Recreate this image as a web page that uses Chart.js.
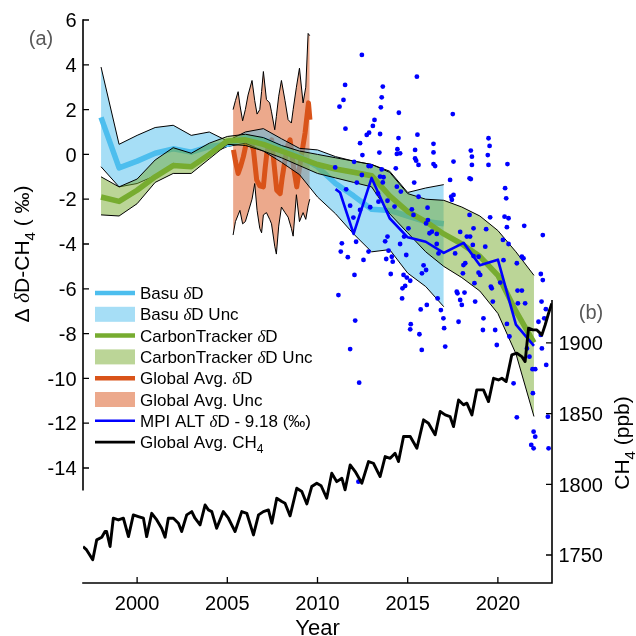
<!DOCTYPE html>
<html><head><meta charset="utf-8">
<script src="https://cdn.jsdelivr.net/npm/chart.js@4.4.1/dist/chart.umd.min.js"></script>
<style>html,body{margin:0;padding:0;background:#fff;}#wrap{width:636px;height:636px;}</style>
</head><body><div id="wrap"><canvas id="c" width="636" height="636"></canvas></div>
<script>
// ---------------- data ----------------
const basuYears = [1998,1999,2000,2001,2002,2003,2004,2005,2006,2007,2008,2009,2010,2011,2012,2013,2014,2015,2016,2017];
const basuDelta = [1.65,-0.6,-0.3,0.05,0.25,0.1,0.35,0.45,0.75,0.65,0.3,-0.1,-0.55,-1.3,-1.85,-2.45,-2.5,-2.75,-3.0,-3.1];
const basuUpper = [3.9,0.45,0.85,1.2,1.3,0.85,1.0,0.6,1.0,1.15,0.7,0.27,0.2,-0.1,-0.3,-0.45,-0.75,-1.7,-1.5,-1.35];
const basuLower = [-0.55,-1.45,-1.3,-0.95,-0.4,-0.6,0.0,0.35,0.5,0.15,-0.35,-0.9,-1.9,-2.65,-3.55,-4.35,-4.25,-5.3,-5.9,-6.8];

const ctYears = [1998,1999,2000,2001,2002,2003,2004,2005,2006,2007,2008,2009,2010,2011,2012,2013,2014,2015,2016,2017,2018,2019,2020,2021,2022];
const ctDelta = [-1.9,-2.1,-1.6,-1.0,-0.5,-0.55,0.0,0.6,0.65,0.45,0.15,-0.15,-0.45,-0.65,-0.8,-0.95,-1.85,-2.55,-3.0,-3.55,-4.0,-4.55,-5.4,-7.0,-8.4];
const ctUpper = [-1.0,-1.45,-1.1,-0.25,0.3,0.05,0.5,0.8,0.9,0.75,0.4,0.15,0.0,-0.15,-0.3,-0.45,-0.8,-1.75,-2.0,-2.05,-2.35,-2.75,-3.4,-4.35,-5.4];
const ctLower = [-2.7,-2.75,-2.2,-1.25,-0.85,-0.85,-0.2,0.45,0.4,0.15,-0.15,-0.5,-0.85,-1.05,-1.25,-1.45,-2.65,-3.5,-4.35,-5.0,-5.5,-6.1,-7.1,-8.9,-11.7];

const gaYears = [2005.34,2005.45,2005.6,2005.75,2005.89,2006.05,2006.17,2006.3,2006.45,2006.63,2006.8,2007.0,2007.1,2007.19,2007.3,2007.46,2007.6,2007.74,2007.93,2008.05,2008.2,2008.35,2008.48,2008.67,2008.85,2009.04,2009.2,2009.31,2009.5,2009.58];
const gaDelta = [0.2,-0.3,-0.85,-0.5,-0.1,0.5,0.8,0.6,0.2,-1.15,-1.4,-1.45,-0.6,0.05,0.45,0.65,-0.5,-1.6,-1.75,-1.0,-0.25,0.4,0.65,-0.55,-1.45,-0.4,0.4,0.95,2.3,1.55];
const gaUncYears = [2005.32,2005.45,2005.6,2005.7,2005.85,2006.0,2006.15,2006.37,2006.52,2006.65,2006.8,2006.9,2007.0,2007.17,2007.35,2007.45,2007.63,2007.72,2007.85,2008.0,2008.2,2008.37,2008.55,2008.65,2008.83,2009.0,2009.2,2009.35,2009.48,2009.57];
const gaUpper = [2.0,2.4,2.8,2.2,1.5,2.0,2.65,3.3,2.4,1.8,2.0,2.8,3.7,2.45,2.3,1.9,1.1,1.7,2.6,3.3,2.4,1.55,1.4,2.0,3.0,3.85,2.3,3.0,5.4,5.3];
const gaLower = [-3.6,-3.0,-2.7,-2.5,-3.1,-3.0,-2.6,-2.0,-1.3,-2.5,-3.3,-3.5,-2.7,-2.6,-2.9,-3.1,-4.1,-4.45,-3.2,-2.35,-2.6,-2.8,-3.3,-3.65,-1.8,-3.0,-2.6,-2.9,-2.3,-2.0];

const mpiYears = [2011.0,2011.25,2012.0,2013.0,2014.0,2015.0,2016.0,2017.0,2018.1,2019.0,2020.0,2021.0,2022.0];
const mpiDelta = [-1.55,-1.7,-3.55,-1.05,-2.85,-3.7,-3.9,-4.4,-3.95,-4.95,-4.7,-7.6,-8.55];

// individual MPI ALT samples [year, delta]
const mpiSamples = [
[2012.46,4.44],[2015.51,3.47],[2011.53,3.10],[2013.62,3.03],[2011.44,2.43],[2013.56,2.55],[2011.22,2.13],[2013.51,2.10],[2014.51,1.86],[2013.16,1.54],
[2013.07,1.27],[2011.55,1.15],[2012.86,0.97],[2012.73,0.87],[2013.47,0.91],[2015.54,0.88],[2014.49,0.73],[2012.36,0.50],[2014.43,0.23],[2015.41,0.20],
[2013.43,0.08],[2014.58,0.05],[2014.40,0.02],[2012.49,-0.03],[2016.43,0.47],[2016.43,0.09],[2015.41,-0.18],[2015.47,-0.28],[2015.60,-0.47],[2016.43,-0.43],
[2016.52,-0.52],[2014.34,-0.62],[2010.98,-0.58],[2012.03,-0.33],[2013.56,-0.67],[2012.83,-0.52],[2012.95,-0.52],[2012.46,-0.92],[2013.47,-0.99],[2013.66,-1.02],
[2012.18,-1.26],[2013.62,-1.25],[2015.36,-1.26],[2011.59,-1.56],[2014.62,-1.66],[2014.40,-1.44],[2013.35,-1.74],[2013.88,-2.07],[2015.60,-1.89],[2013.38,-2.11],
[2011.81,-2.29],[2012.92,-2.36],[2014.27,-2.33],[2015.23,-2.45],[2016.10,-2.38],[2015.32,-2.70],[2016.12,-2.93],[2016.02,-3.08],[2011.99,-2.82],[2012.36,-2.48],
[2015.04,-3.30],[2016.34,-3.45],[2016.21,-3.52],[2016.61,-3.55],[2014.80,-3.67],[2013.88,-3.67],[2013.75,-3.88],[2014.58,-4.00],[2016.61,-4.00],[2016.71,-4.42],
[2011.35,-3.97],[2012.14,-3.90],[2012.83,-4.34],[2011.29,-4.34],[2011.68,-4.59],[2012.55,-4.71],[2013.94,-4.30],[2013.81,-4.67],[2014.12,-4.57],[2014.17,-4.79],
[2014.92,-4.49],[2015.88,-4.95],[2016.02,-5.16],[2015.79,-5.31],[2014.77,-5.38],[2014.95,-5.50],[2012.05,-5.38],[2014.06,-5.34],[2014.71,-5.98],[2014.86,-5.87],
[2015.14,-5.64],[2011.16,-6.28],[2014.69,-6.43],[2016.66,-6.43],[2016.06,-6.72],[2015.72,-6.92],[2012.09,-7.42],[2015.17,-7.58],[2015.14,-7.81],[2015.65,-8.03],
[2011.81,-8.69],[2012.31,-10.19],[2012.27,-14.61],[2015.78,-8.73],
[2017.50,1.80],[2017.54,-0.32],[2018.50,0.17],[2018.56,-0.10],[2018.56,-0.47],[2019.48,0.72],[2019.54,0.38],[2019.44,-0.03],[2019.48,-0.47],[2020.53,-0.43],
[2017.35,-1.14],[2018.43,-1.07],[2018.50,-1.10],[2020.40,-1.51],[2020.46,-1.96],[2017.54,-1.81],[2017.41,-1.89],[2017.45,-2.03],[2019.57,-2.81],[2020.37,-2.78],
[2020.59,-2.85],[2021.46,-3.19],[2022.49,-3.60],[2020.50,-3.25],[2018.43,-2.70],[2018.65,-3.30],[2019.35,-3.34],[2018.46,-3.67],[2017.91,-3.46],[2018.28,-3.67],
[2020.28,-3.82],[2020.59,-4.00],[2019.30,-4.12],[2018.61,-4.04],[2017.63,-4.42],[2018.65,-4.54],[2018.93,-4.57],[2020.31,-4.72],[2021.05,-4.86],[2021.33,-4.57],
[2021.42,-4.64],[2018.19,-4.86],[2018.09,-4.94],[2018.06,-5.31],[2018.93,-5.28],[2019.02,-5.38],[2020.13,-5.72],[2019.61,-5.90],[2019.66,-5.98],[2018.70,-5.75],
[2021.33,-6.08],[2021.09,-6.08],[2017.72,-6.13],[2017.76,-6.20],[2018.15,-6.17],[2018.74,-6.57],[2017.91,-6.50],[2018.00,-6.72],[2019.72,-6.57],[2021.11,-6.65],
[2021.51,-6.65],[2022.38,-5.34],[2022.49,-5.61],[2022.42,-6.57],[2022.25,-7.47],[2022.38,-8.06],[2022.66,-6.91],[2022.57,-7.32],[2019.20,-7.32],[2019.17,-7.84],
[2019.85,-7.84],[2020.50,-7.57],[2020.64,-8.13],[2019.94,-8.51],[2021.61,-8.66],[2021.75,-9.03],[2021.92,-9.59],[2022.07,-9.59],[2021.94,-10.66],[2020.87,-10.22],
[2021.05,-11.74],[2021.98,-12.38],[2022.07,-12.60],[2021.85,-12.97],[2021.98,-13.12],[2022.81,-13.12],[2022.77,-11.71],[2022.68,-9.40],[2022.44,-8.66],[2017.82,-7.47],
[2016.98,-7.32],[2017.02,-7.76],[2017.08,-8.58],[2016.84,-6.95]
];

// global average CH4 [year, ppb]
const ch4Series = [
[1997.0,1755.9],[1997.2,1753.6],[1997.54,1746.6],[1997.76,1760.7],[1998.04,1762.6],[1998.22,1766.6],[1998.31,1766.6],[1998.5,1756.0],[1998.68,1776.0],[1998.96,1774.8],
[1999.24,1776.0],[1999.52,1763.0],[1999.79,1778.4],[2000.07,1777.2],[2000.35,1776.0],[2000.53,1763.0],[2000.81,1779.5],[2001.09,1774.8],[2001.36,1768.9],[2001.55,1762.6],
[2001.73,1776.0],[2002.01,1776.0],[2002.29,1772.5],[2002.47,1766.6],[2002.75,1778.4],[2003.03,1780.7],[2003.21,1776.0],[2003.49,1771.3],[2003.77,1785.4],[2003.95,1781.9],
[2004.14,1780.7],[2004.41,1768.9],[2004.78,1780.7],[2005.06,1776.0],[2005.43,1766.6],[2005.8,1780.7],[2006.08,1779.5],[2006.45,1764.2],[2006.73,1778.4],[2007.0,1780.7],
[2007.28,1781.9],[2007.47,1772.5],[2007.74,1790.1],[2008.02,1787.8],[2008.2,1786.6],[2008.48,1777.7],[2008.85,1797.2],[2009.13,1794.9],[2009.41,1786.1],[2009.68,1798.4],
[2009.96,1800.8],[2010.2,1799.0],[2010.51,1790.2],[2010.79,1807.8],[2011.07,1801.9],[2011.35,1804.3],[2011.53,1796.1],[2011.81,1813.7],[2012.09,1809.0],[2012.46,1800.8],
[2012.83,1816.1],[2013.1,1814.9],[2013.47,1805.5],[2013.75,1819.6],[2014.03,1818.4],[2014.3,1822.0],[2014.49,1816.1],[2014.77,1833.8],[2015.14,1833.8],[2015.51,1825.5],
[2015.88,1845.6],[2016.15,1843.2],[2016.52,1835.0],[2016.8,1851.5],[2017.08,1849.1],[2017.35,1847.9],[2017.54,1840.8],[2017.82,1859.7],[2018.09,1856.2],[2018.28,1857.4],
[2018.56,1849.1],[2018.83,1866.8],[2019.2,1866.8],[2019.48,1858.5],[2019.76,1875.0],[2020.03,1873.8],[2020.22,1875.0],[2020.46,1872.7],[2020.77,1891.5],[2021.05,1892.7],
[2021.33,1890.3],[2021.51,1886.8],[2021.7,1910.4],[2021.94,1909.2],[2022.16,1909.2],[2022.44,1905.7],[2022.62,1912.7],[2022.81,1921.0],[2022.99,1928.0]
];

const xTicks = [2000,2005,2010,2015,2020];
const leftTicks = [6,4,2,0,-2,-4,-6,-8,-10,-12,-14];
const rightTicks = [1750,1800,1850,1900];
const leftAxisSpan = [-15, 6];
const rightAxisSpan = [1730.2, 1930.4];
const legendLabels = ['Basu δD','Basu δD Unc','CarbonTracker δD','CarbonTracker δD Unc','Global Avg. δD','Global Avg. Unc','MPI ALT δD - 9.18 (‰)','Global Avg. CH_4'];

// ---------------- helpers ----------------
const zip = (xs, ys) => xs.map((x, i) => ({x: x, y: ys[i]}));
const pairs = arr => arr.map(p => ({x: p[0], y: p[1]}));
const SANS = '"Liberation Sans", Arial, Helvetica, sans-serif';
const SERIF = '"Liberation Serif", "Times New Roman", serif';

function runs(s) {
  const out = []; let buf = ''; const ch = [...s];
  for (let k = 0; k < ch.length; k++) {
    const c = ch[k];
    if (c === 'δ') { if (buf) out.push({t: buf}); buf = ''; out.push({t: 'δ', it: true}); }
    else if (c === '_') { if (buf) out.push({t: buf}); buf = ''; out.push({t: ch[++k], sub: true}); }
    else buf += c;
  }
  if (buf) out.push({t: buf});
  return out;
}
function fontFor(r, size) {
  const s = r.sub ? Math.round(size * 0.72) : size;
  return r.it ? 'italic ' + s + 'px ' + SERIF : s + 'px ' + SANS;
}
function drawRich(ctx, s, x, y, size, align) {
  const rs = runs(s); let w = 0;
  rs.forEach(r => { ctx.font = fontFor(r, size); r.w = ctx.measureText(r.t).width; w += r.w; });
  let cx = align === 'center' ? x - w / 2 : (align === 'right' ? x - w : x);
  ctx.textAlign = 'left'; ctx.textBaseline = 'alphabetic';
  rs.forEach(r => { ctx.font = fontFor(r, size); ctx.fillText(r.t, cx, y + (r.sub ? size * 0.3 : 0)); cx += r.w; });
}

const GREEN = '#77AC30', BLUE = '#4DBEEE', ORANGE = '#D95319';
const GREEN_F = 'rgba(119,172,48,0.5)', BLUE_F = 'rgba(77,190,238,0.5)', ORANGE_F = 'rgba(217,83,25,0.5)';

const datasets = [
  {label: 'Global Avg. CH4', data: pairs(ch4Series), yAxisID: 'yB', borderColor: '#000', borderWidth: 2.9, order: 0, borderJoinStyle: 'round'},
  {label: 'MPI ALT', data: zip(mpiYears, mpiDelta), yAxisID: 'yA', borderColor: '#0000FF', borderWidth: 2.6, order: 1, borderJoinStyle: 'round'},
  {label: 'MPI samples', data: pairs(mpiSamples), yAxisID: 'yA', showLine: false, pointRadius: 2.4, pointBorderWidth: 0, pointBackgroundColor: '#0000FF', borderColor: '#0000FF', order: 2},
  {label: 'CarbonTracker', data: zip(ctYears, ctDelta), yAxisID: 'yA', borderColor: GREEN, borderWidth: 5.5, order: 3, borderJoinStyle: 'round'},
  {label: 'CT lower', data: zip(ctYears, ctLower), yAxisID: 'yA', borderColor: '#000', borderWidth: 1, order: 4},
  {label: 'CT upper', data: zip(ctYears, ctUpper), yAxisID: 'yA', borderColor: '#000', borderWidth: 1, backgroundColor: GREEN_F, fill: '-1', order: 5},
  {label: 'Basu', data: zip(basuYears, basuDelta), yAxisID: 'yA', borderColor: BLUE, borderWidth: 5.5, order: 6, borderJoinStyle: 'round'},
  {label: 'Basu lower', data: zip(basuYears, basuLower), yAxisID: 'yA', borderColor: '#000', borderWidth: 1, order: 7},
  {label: 'Basu upper', data: zip(basuYears, basuUpper), yAxisID: 'yA', borderColor: '#000', borderWidth: 1, backgroundColor: BLUE_F, fill: '-1', order: 8},
  {label: 'Global Avg', data: zip(gaYears, gaDelta), yAxisID: 'yA', borderColor: ORANGE, borderWidth: 5, order: 9, borderJoinStyle: 'round'},
  {label: 'GA lower', data: zip(gaUncYears, gaLower), yAxisID: 'yA', borderColor: '#000', borderWidth: 1, order: 10},
  {label: 'GA upper', data: zip(gaUncYears, gaUpper), yAxisID: 'yA', borderColor: '#000', borderWidth: 1, backgroundColor: ORANGE_F, fill: '-1', order: 11}
];
datasets.forEach(d => { d.xAxisID = 'x'; if (d.fill === undefined) d.fill = false; if (d.pointRadius === undefined) d.pointRadius = 0; d.tension = 0; });

// legend entries: [kind, dataset index]
const legendKinds = [['line', 6], ['patch', 8], ['line', 3], ['patch', 5], ['line', 9], ['patch', 11], ['line', 1], ['line', 0]];

const decor = {
  id: 'decor',
  afterDatasetsDraw(chart) {
    const ctx = chart.ctx, ca = chart.chartArea, sx = chart.scales.x, sa = chart.scales.yA, sb = chart.scales.yB;
    ctx.save();
    ctx.strokeStyle = '#000'; ctx.fillStyle = '#000'; ctx.lineWidth = 1.6; ctx.lineCap = 'butt';
    const L = ca.left, R = ca.right, B = ca.bottom, T = 6;
    ctx.beginPath();
    ctx.moveTo(L, sa.getPixelForValue(leftAxisSpan[1]) - 0.8); ctx.lineTo(L, sa.getPixelForValue(leftAxisSpan[0]));
    ctx.moveTo(L - 0.8, B); ctx.lineTo(R + 0.8, B);
    ctx.moveTo(R, sb.getPixelForValue(rightAxisSpan[1])); ctx.lineTo(R, B + 0.8);
    ctx.stroke();
    ctx.lineWidth = 1.3; ctx.beginPath();
    leftTicks.forEach(v => { const y = sa.getPixelForValue(v); ctx.moveTo(L, y); ctx.lineTo(L + T, y); });
    xTicks.forEach(v => { const x = sx.getPixelForValue(v); ctx.moveTo(x, B); ctx.lineTo(x, B - T); });
    rightTicks.forEach(v => { const y = sb.getPixelForValue(v); ctx.moveTo(R, y); ctx.lineTo(R - T, y); });
    ctx.stroke();
    const TS = 20;
    ctx.font = TS + 'px ' + SANS; ctx.textBaseline = 'alphabetic';
    ctx.textAlign = 'right';
    leftTicks.forEach(v => { ctx.fillText(String(v), L - 6.5, sa.getPixelForValue(v) + TS * 0.36); });
    ctx.textAlign = 'center';
    xTicks.forEach(v => { ctx.fillText(String(v), sx.getPixelForValue(v), B + 27); });
    ctx.textAlign = 'left';
    rightTicks.forEach(v => { ctx.fillText(String(v), R + 6.5, sb.getPixelForValue(v) + TS * 0.36); });
    drawRich(ctx, 'Year', (L + R) / 2, 635, 22, 'center');
    ctx.save(); ctx.translate(29, 254); ctx.rotate(-Math.PI / 2); drawRich(ctx, 'Δ δD-CH_4 ( ‰)', 0, 0, 21, 'center'); ctx.restore();
    ctx.save(); ctx.translate(629, 443); ctx.rotate(-Math.PI / 2); drawRich(ctx, 'CH_4 (ppb)', 0, 0, 21, 'center'); ctx.restore();
    ctx.fillStyle = '#595959'; ctx.font = '20px ' + SANS; ctx.textAlign = 'center';
    ctx.fillText('(a)', 41, 45); ctx.fillText('(b)', 591, 319);
    const lx0 = 95, lx1 = 135, tx = 140, y0 = 293, dy = 21.3;
    legendKinds.forEach((k, i) => {
      const ds = chart.data.datasets[k[1]]; const y = y0 + i * dy;
      if (k[0] === 'patch') {
        ctx.fillStyle = ds.backgroundColor; ctx.fillRect(lx0, y - 7.5, lx1 - lx0, 15);
      } else {
        ctx.strokeStyle = ds.borderColor; ctx.lineWidth = Math.min(ds.borderWidth, 4.5);
        ctx.beginPath(); ctx.moveTo(lx0, y); ctx.lineTo(lx1, y); ctx.stroke();
      }
      ctx.fillStyle = '#000';
      drawRich(ctx, legendLabels[i], tx, y + 6, 17, 'left');
    });
    ctx.restore();
  }
};

new Chart(document.getElementById('c'), {
  type: 'line',
  data: {datasets: datasets},
  options: {
    responsive: false, animation: false, devicePixelRatio: 1,
    layout: {padding: {left: 83, right: 84, top: 20, bottom: 53}},
    plugins: {legend: {display: false}, tooltip: {enabled: false}},
    scales: {
      x: {type: 'linear', min: 1997, max: 2023, display: false},
      yA: {type: 'linear', position: 'left', min: -19.134, max: 6, display: false},
      yB: {type: 'linear', position: 'right', min: 1730.2, max: 2128.4, display: false}
    }
  },
  plugins: [decor]
});
</script></body></html>
